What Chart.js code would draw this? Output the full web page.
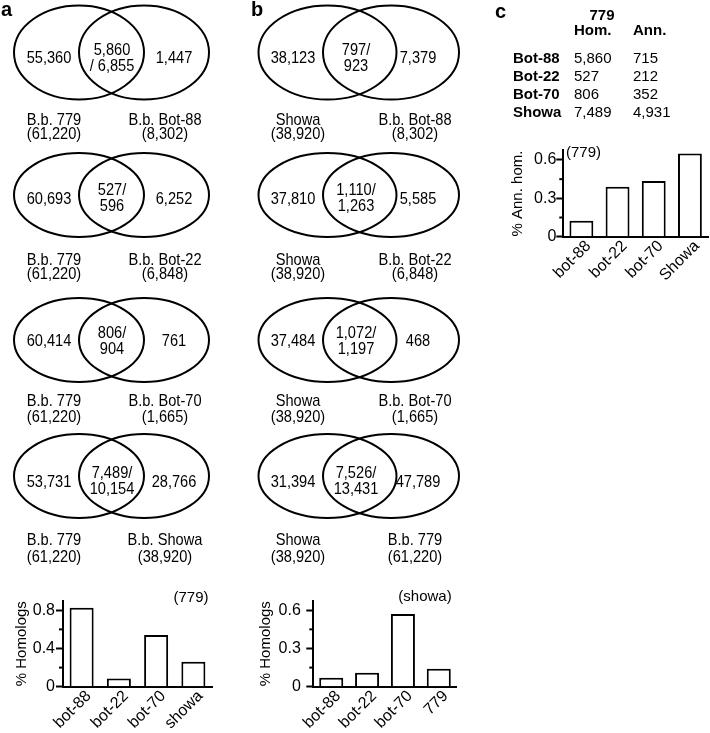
<!DOCTYPE html>
<html>
<head>
<meta charset="utf-8">
<script src="https://cdn.jsdelivr.net/npm/chart.js@4/dist/chart.umd.min.js"></script>
<style>
html, body { margin: 0; padding: 0; background: #fff; }
body { width: 710px; height: 733px; position: relative; overflow: hidden; font-family: 'Liberation Sans', Arial, sans-serif; color: #000; }
canvas { position: absolute; }
.t { position: absolute; white-space: nowrap; line-height: 1; font-size: 15px; transform: translate(-50%, -50%); }
.v { font-size: 17px; transform: translate(-50%, -50%) scaleX(0.86); }
.l { position: absolute; white-space: nowrap; line-height: 1; font-size: 15px; transform: translateY(-50%); }
.b { font-weight: bold; }
.panel { font-size: 20px; font-weight: bold; }
</style>
</head>
<body>
<canvas id="venn" width="500" height="580" style="left:0px;top:0px"></canvas>
<canvas id="barA" width="230" height="143" style="left:0px;top:590px"></canvas>
<canvas id="barB" width="230" height="143" style="left:250px;top:590px"></canvas>
<canvas id="barC" width="210" height="150" style="left:500px;top:140px"></canvas>
<div id="labels"></div>
<script>
// panel a: B.b. 779 against each strain
const vennALeftName = 'B.b. 779';
const vennALeftTotal = 61220;
const vennARightNames = ['B.b. Bot-88', 'B.b. Bot-22', 'B.b. Bot-70', 'B.b. Showa'];
const vennARightTotals = [8302, 6848, 1665, 38920];
const vennALeftOnly = [55360, 60693, 60414, 53731];
const vennAHom = [5860, 527, 806, 7489];
const vennAShared = [6855, 596, 904, 10154];
const vennARightOnly = [1447, 6252, 761, 28766];

// panel b: Showa against each strain
const vennBLeftName = 'Showa';
const vennBLeftTotal = 38920;
const vennBRightNames = ['B.b. Bot-88', 'B.b. Bot-22', 'B.b. Bot-70', 'B.b. 779'];
const vennBRightTotals = [8302, 6848, 1665, 61220];
const vennBLeftOnly = [38123, 37810, 37484, 31394];
const vennBHom = [797, 1110, 1072, 7526];
const vennBShared = [923, 1263, 1197, 13431];
const vennBRightOnly = [7379, 5585, 468, 47789];

// bar charts
const aCategories = ['bot-88', 'bot-22', 'bot-70', 'showa'];
const aValues = [0.825, 0.085, 0.54, 0.26];
const aTicks = [0, 0.4, 0.8];
const aMinorTicks = [0.2, 0.6];

const bCategories = ['bot-88', 'bot-22', 'bot-70', '779'];
const bValues = [0.07, 0.11, 0.57, 0.14];
const bTicks = [0, 0.3, 0.6];
const bMinorTicks = [0.15, 0.45];

const cCategories = ['bot-88', 'bot-22', 'bot-70', 'Showa'];
const cValues = [0.125, 0.39, 0.435, 0.65];
const cTicks = [0, 0.3, 0.6];
const cMinorTicks = [0.15, 0.45];

// table in panel c
const tableStrains = ['Bot-88', 'Bot-22', 'Bot-70', 'Showa'];
const tableHom = [5860, 527, 806, 7489];
const tableAnn = [715, 212, 352, 4931];

Chart.defaults.font.family = "'Liberation Sans', Arial, sans-serif";
Chart.defaults.color = '#000';

const fmt = n => n.toLocaleString('en-US');
const box = document.getElementById('labels');

function addText(x, y, text, cls) {
	const d = document.createElement('div');
	d.className = cls;
	d.style.left = x + 'px';
	d.style.top = y + 'px';
	d.textContent = text;
	box.appendChild(d);
}

// venn layout
const rowCy = [52.5, 195, 340, 476];
const rowRy = [47, 42, 42, 42];
const numY = [57, 198, 340, 481];
const sharedY = [[49, 65], [189, 205], [332, 348], [472, 488]];
const nameY = [[118.5, 133], [258.5, 273], [400, 415.5], [539, 556]];

const vennCols = [
	{
		ellipses: [[79, 65], [144, 65]], xs: [49, 112, 174, 54, 165],
		leftName: vennALeftName, leftTotal: vennALeftTotal, rightNames: vennARightNames, rightTotals: vennARightTotals,
		leftOnly: vennALeftOnly, hom: vennAHom, shared: vennAShared, rightOnly: vennARightOnly, slashBelow: [true, false, false, false]
	},
	{
		ellipses: [[327.5, 69], [391, 68]], xs: [293, 356, 418, 298, 415],
		leftName: vennBLeftName, leftTotal: vennBLeftTotal, rightNames: vennBRightNames, rightTotals: vennBRightTotals,
		leftOnly: vennBLeftOnly, hom: vennBHom, shared: vennBShared, rightOnly: vennBRightOnly, slashBelow: [false, false, false, false]
	}
];

const vennOutline = {
	id: 'vennOutline',
	afterDraw(chart) {
		const { ctx, scales: { x, y } } = chart;
		ctx.save();
		ctx.lineWidth = 2;
		ctx.strokeStyle = '#000';
		vennCols.forEach(col => rowCy.forEach((cy, r) => col.ellipses.forEach(([cx, rx]) => {
			ctx.beginPath();
			ctx.ellipse(x.getPixelForValue(cx), y.getPixelForValue(cy), rx, rowRy[r], 0, 0, Math.PI * 2);
			ctx.stroke();
		})));
		ctx.restore();
	}
};

new Chart(document.getElementById('venn'), {
	type: 'scatter',
	data: { datasets: [] },
	options: {
		responsive: false,
		animation: false,
		layout: { padding: 0 },
		plugins: { legend: { display: false }, tooltip: { enabled: false } },
		scales: {
			x: { type: 'linear', display: false, min: 0, max: 500 },
			y: { type: 'linear', display: false, min: 0, max: 580, reverse: true }
		}
	},
	plugins: [vennOutline]
});

vennCols.forEach(col => {
	const [xl, xs, xr, xnl, xnr] = col.xs;
	rowCy.forEach((cy, r) => {
		addText(xl, numY[r], fmt(col.leftOnly[r]), 't v');
		addText(xr, numY[r], fmt(col.rightOnly[r]), 't v');
		const top = col.slashBelow[r] ? fmt(col.hom[r]) : fmt(col.hom[r]) + '/';
		const bottom = col.slashBelow[r] ? '/ ' + fmt(col.shared[r]) : fmt(col.shared[r]);
		addText(xs, sharedY[r][0], top, 't v');
		addText(xs, sharedY[r][1], bottom, 't v');
		addText(xnl, nameY[r][0], col.leftName, 't v');
		addText(xnl, nameY[r][1], '(' + fmt(col.leftTotal) + ')', 't v');
		addText(xnr, nameY[r][0], col.rightNames[r], 't v');
		addText(xnr, nameY[r][1], '(' + fmt(col.rightTotals[r]) + ')', 't v');
	});
});

// short unlabeled ticks on the y axis
const minorTicks = {
	id: 'minorTicks',
	afterDraw(chart, args, opts) {
		const y = chart.scales.y;
		const ctx = chart.ctx;
		ctx.save();
		ctx.strokeStyle = '#000';
		ctx.lineWidth = 2;
		(opts.values || []).forEach(v => {
			const py = y.getPixelForValue(v);
			ctx.beginPath();
			ctx.moveTo(y.right - 4, py);
			ctx.lineTo(y.right, py);
			ctx.stroke();
		});
		ctx.restore();
	}
};

function barChart(id, labels, values, o) {
	const font = { size: 16 };
	new Chart(document.getElementById(id), {
		type: 'bar',
		data: {
			labels: labels,
			datasets: [{
				data: values,
				backgroundColor: '#fff',
				borderColor: '#000',
				borderWidth: 2,
				barPercentage: o.bar,
				categoryPercentage: 1
			}]
		},
		options: {
			responsive: false,
			animation: false,
			layout: { padding: { top: o.top, right: o.right, left: 0, bottom: 0 } },
			plugins: { legend: { display: false }, tooltip: { enabled: false }, minorTicks: { values: o.minor } },
			scales: {
				x: {
					grid: { display: false, drawTicks: false },
					border: { color: '#000', width: 2 },
					ticks: { font: font, color: '#000', maxRotation: 45, minRotation: 45, autoSkip: false, padding: 0, labelOffset: 7 },
					afterFit: s => { s.height = o.xh; s.paddingLeft = 0; s.paddingRight = 0; }
				},
				y: {
					min: 0,
					max: o.max,
					afterBuildTicks: s => { s.ticks = o.ticks.map(v => ({ value: v })); },
					grid: { display: true, drawOnChartArea: false, drawTicks: true, tickLength: 7, tickColor: '#000', tickWidth: 2 },
					border: { color: '#000', width: 2 },
					ticks: { font: font, color: '#000', padding: o.pad, callback: v => String(v) },
					title: { display: true, text: o.title, font: { size: 15 }, color: '#000', padding: { top: o.titlePad, bottom: 0 } },
					afterFit: s => { s.width = o.yw; s.paddingTop = 0; s.paddingBottom = 0; }
				}
			}
		},
		plugins: [minorTicks]
	});
}

barChart('barA', aCategories, aValues, { max: 0.9, ticks: aTicks, minor: aMinorTicks, title: '% Homologs', top: 10.7, right: 18, yw: 63, xh: 46.3, pad: 1, titlePad: 12.7, bar: 0.645 });
barChart('barB', bCategories, bValues, { max: 0.675, ticks: bTicks, minor: bMinorTicks, title: '% Homologs', top: 10.7, right: 23.3, yw: 63.3, xh: 46.3, pad: 5.5, titlePad: 7, bar: 0.67 });
barChart('barC', cCategories, cValues, { max: 0.675, ticks: cTicks, minor: cMinorTicks, title: '% Ann. hom.', top: 10.4, right: 2, yw: 63.3, xh: 53.3, pad: 0, titlePad: 9, bar: 0.66 });

addText(191, 596, '(779)', 't');
addText(425, 595, '(showa)', 't');
addText(566, 151, '(779)', 'l');

// table
addText(602, 13.5, '779', 't b');
addText(574, 29, 'Hom.', 'l b');
addText(633, 29, 'Ann.', 'l b');
const rowY = [57, 74.5, 92.5, 111];
tableStrains.forEach((s, i) => {
	addText(513, rowY[i], s, 'l b');
	addText(574, rowY[i], fmt(tableHom[i]), 'l');
	addText(633, rowY[i], fmt(tableAnn[i]), 'l');
});

// panel letters
addText(1, 9, 'a', 'l panel');
addText(251, 9, 'b', 'l panel');
addText(495, 11, 'c', 'l panel');
</script>
</body>
</html>
